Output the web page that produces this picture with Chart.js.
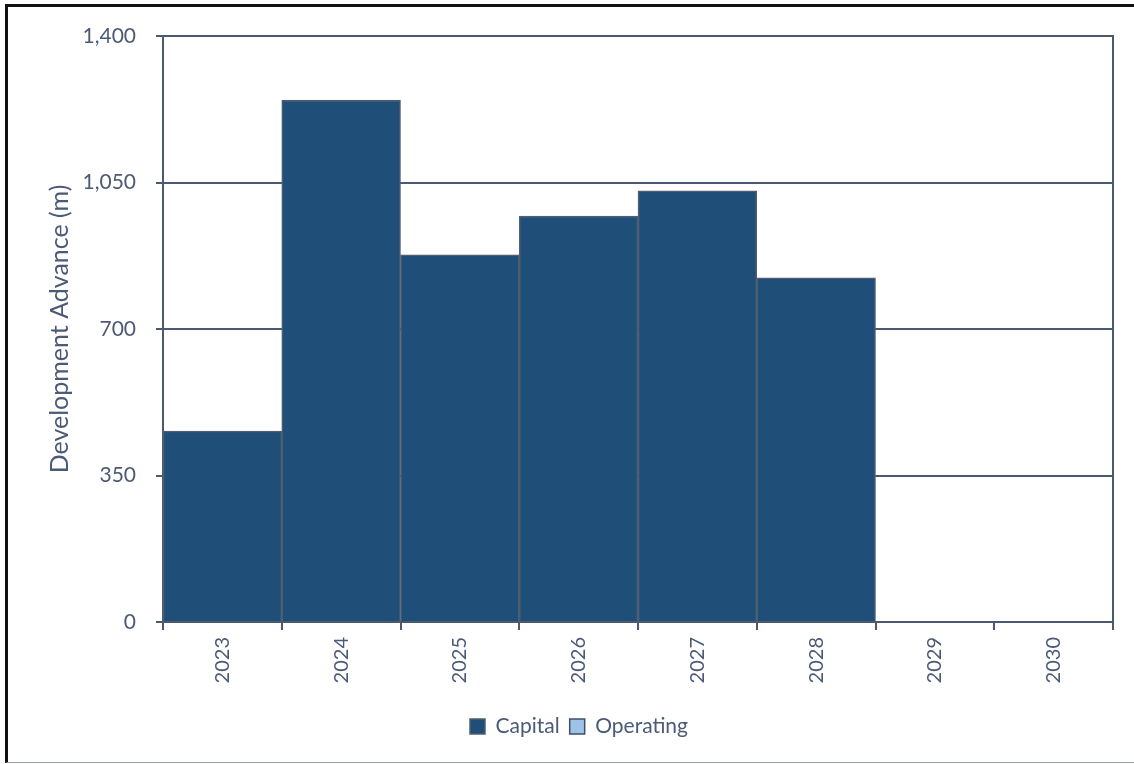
<!DOCTYPE html>
<html>
<head>
<meta charset="utf-8">
<script src="https://cdn.jsdelivr.net/npm/chart.js@4.4.0/dist/chart.umd.min.js"></script>
<style>
  body { margin: 0; background: #fff; }
  #wrap { position: absolute; left: 0; top: 0; width: 1134px; height: 764px; }
  #frame {
    position: absolute; left: 5px; top: 4px; right: 0; bottom: 1px;
    border-left: 3px solid #111; border-top: 3px solid #111;
    border-bottom: 1px solid #9aa0a8; box-sizing: border-box;
  }
  canvas { position: absolute; left: 0; top: 0; }
</style>
</head>
<body>
<div id="wrap">
  <div id="frame"></div>
  <canvas id="chart" width="1134" height="764"></canvas>
</div>
<script>
const years = ['2023', '2024', '2025', '2026', '2027', '2028', '2029', '2030'];
const capital = [456, 1247, 877, 970, 1030, 822, 0, 0];
const operating = [0, 0, 0, 0, 0, 0, 0, 0];
const yTicks = [0, 350, 700, 1050, 1400];

const axisColor = '#4a5a72';
const textColor = '#4b5a76';
const fontFamily = 'Lato, "Open Sans", sans-serif';

const ctx = document.getElementById('chart').getContext('2d');
const chart = new Chart(ctx, {
    type: 'bar',
    data: {
        labels: years,
        datasets: [{
            label: 'Capital',
            data: capital,
            backgroundColor: '#1F4E79',
            borderColor: '#525e70',
            borderWidth: 1.5,
            barPercentage: 1,
            categoryPercentage: 1
        }, {
            label: 'Operating',
            data: operating,
            backgroundColor: '#9DC3E6',
            borderColor: '#3f4f68',
            borderWidth: 1.5,
            barPercentage: 1,
            categoryPercentage: 1
        }]
    },
    options: {
        responsive: false,
        animation: false,
        layout: { padding: { left: 45, right: 21, top: 36, bottom: 17 } },
        scales: {
            x: {
                stacked: true,
                grid: {
                    offset: true,
                    drawOnChartArea: false,
                    color: axisColor,
                    lineWidth: 2,
                    tickLength: 8
                },
                border: { color: axisColor, width: 2 },
                ticks: {
                    color: textColor,
                    font: { family: fontFamily, size: 20 },
                    minRotation: 90,
                    maxRotation: 90,
                    padding: 7
                },
                afterFit: function(scale) { scale.height = 84; }
            },
            y: {
                stacked: true,
                min: 0,
                max: 1400,
                afterBuildTicks: function(scale) {
                    scale.ticks = yTicks.map(v => ({ value: v }));
                },
                grid: {
                    color: axisColor,
                    lineWidth: 2,
                    tickLength: 7
                },
                border: { color: axisColor, width: 2 },
                ticks: {
                    color: textColor,
                    font: { family: fontFamily, size: 21 },
                    padding: 20
                },
                title: {
                    display: true,
                    text: 'Development Advance (m)',
                    color: textColor,
                    font: { family: fontFamily, size: 25 },
                    padding: { top: 0, bottom: 0 }
                },
                afterFit: function(scale) { scale.width = 118; }
            },
            y2: {
                position: 'right',
                min: 0,
                max: 1400,
                grid: { display: false },
                ticks: { display: false },
                border: { display: true, color: axisColor, width: 2 },
                afterFit: function(scale) { scale.width = 0; }
            }
        },
        plugins: {
            legend: {
                position: 'bottom',
                labels: {
                    color: textColor,
                    font: { family: fontFamily, size: 21 },
                    boxWidth: 15,
                    boxHeight: 15,
                    padding: 10
                }
            },
            tooltip: { enabled: false }
        }
    }
});
</script>
</body>
</html>
